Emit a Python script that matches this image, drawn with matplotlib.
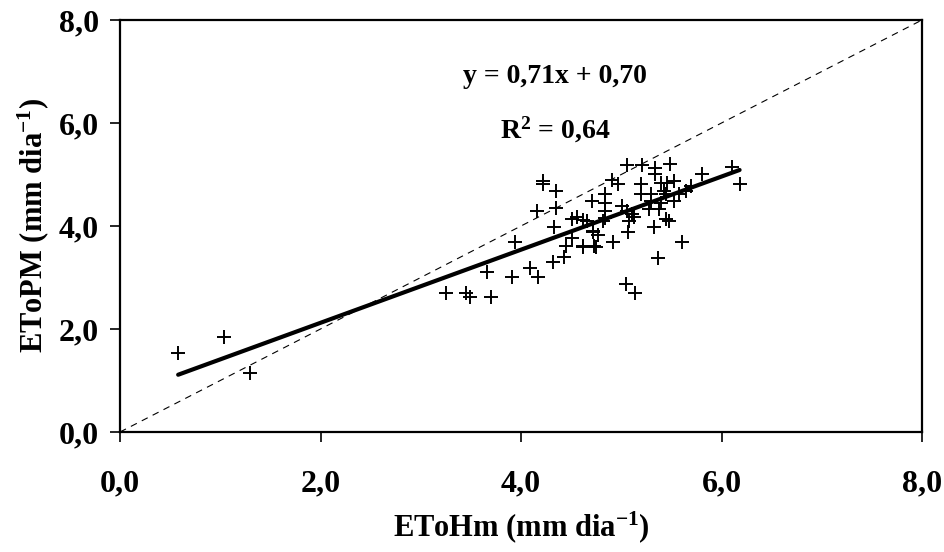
import matplotlib
matplotlib.use("Agg")
import matplotlib.pyplot as plt
import numpy as np
from matplotlib.ticker import FuncFormatter

# EToHm (x) e EToPM (y), mm/dia
eto_hm = [0.58, 1.04, 1.30, 3.25, 3.45, 3.49, 3.70, 3.66, 3.91, 3.94,
          4.09, 4.17, 4.22, 4.22, 4.35, 4.16, 4.35, 4.33, 4.32, 4.43,
          4.45, 4.51, 4.51, 4.56, 4.62, 4.73, 4.71, 4.66, 4.72, 5.06,
          5.21, 5.34, 5.49, 5.34, 4.91, 4.97, 5.20, 5.40, 5.46, 5.53,
          5.81, 6.10, 6.18, 5.70, 4.84, 4.84, 5.20, 5.30, 5.43, 5.45,
          5.58, 5.65, 5.30, 5.40, 5.53, 5.01, 5.06, 5.11, 5.28, 5.38,
          4.84, 4.84, 4.62, 4.82, 5.08, 5.13, 5.45, 5.48, 4.72, 4.77,
          5.07, 5.33, 4.62, 4.75, 4.92, 5.61, 5.37, 5.05, 5.14]
eto_pm = [1.53, 1.84, 1.14, 2.69, 2.70, 2.63, 2.63, 3.11, 3.00, 3.69,
          3.19, 3.00, 4.87, 4.81, 4.68, 4.29, 4.35, 3.98, 3.30, 3.40,
          3.61, 3.77, 4.13, 4.17, 3.61, 3.61, 4.48, 4.09, 3.88, 5.18,
          5.18, 5.12, 5.20, 5.00, 4.89, 4.81, 4.81, 4.83, 4.83, 4.87,
          5.00, 5.14, 4.81, 4.77, 4.62, 4.44, 4.62, 4.62, 4.68, 4.62,
          4.62, 4.68, 4.48, 4.44, 4.48, 4.39, 4.29, 4.23, 4.33, 4.33,
          4.29, 4.16, 4.12, 4.10, 4.10, 4.17, 4.14, 4.10, 3.90, 3.82,
          3.88, 3.98, 3.59, 3.59, 3.69, 3.69, 3.38, 2.88, 2.69]

slope, intercept = 0.71, 0.70
ticks = [0, 2, 4, 6, 8]

plt.rcParams["font.family"] = ["Liberation Serif", "DejaVu Serif"]
plt.rcParams["font.weight"] = "bold"
plt.rcParams["mathtext.fontset"] = "custom"
plt.rcParams["mathtext.rm"] = "Liberation Serif:bold"
plt.rcParams["mathtext.it"] = "Liberation Serif:bold"
plt.rcParams["mathtext.bf"] = "Liberation Serif:bold"

fig = plt.figure(figsize=(9.45, 5.52), dpi=100)
ax = fig.add_axes([0.127, 0.2174, 0.8487, 0.7464])

# linha 1:1
ax.plot([0, 8], [0, 8], color="black", lw=0.8, ls=(0, (6, 5)))

# pontos
ax.plot(eto_hm, eto_pm, ls="none", marker="+", color="black",
        markersize=10, markeredgewidth=1.4)

# reta de regressão
xr = np.array([min(eto_hm), max(eto_hm)])
ax.plot(xr, slope * xr + intercept, color="black", lw=3, solid_capstyle="round")

ax.text(4.34, 6.9, "y = 0,71x + 0,70", ha="center", va="center",
        fontsize=20, fontweight="bold")
ax.text(4.34, 5.87, "R$^{2}$ = 0,64", ha="center", va="center",
        fontsize=20, fontweight="bold")

ax.set_xlim(0, 8)
ax.set_ylim(0, 8)
ax.set_xticks(ticks)
ax.set_yticks(ticks)
fmt = FuncFormatter(lambda v, p: f"{v:.1f}".replace(".", ","))
ax.xaxis.set_major_formatter(fmt)
ax.yaxis.set_major_formatter(fmt)
ax.tick_params(direction="out", length=7, width=1.2, labelsize=23, pad=20,
               top=False, right=False)
ax.tick_params(axis="y", pad=8)
for lbl in ax.get_xticklabels() + ax.get_yticklabels():
    lbl.set_fontweight("bold")
for s in ax.spines.values():
    s.set_linewidth(1.6)

ax.set_xlabel("EToHm (mm dia$^{-1}$)", fontsize=22, fontweight="bold", labelpad=8)
ax.set_ylabel("EToPM (mm dia$^{-1}$)", fontsize=22, fontweight="bold", labelpad=6)

fig.savefig("out.png", dpi=100)
plt.close(fig)
